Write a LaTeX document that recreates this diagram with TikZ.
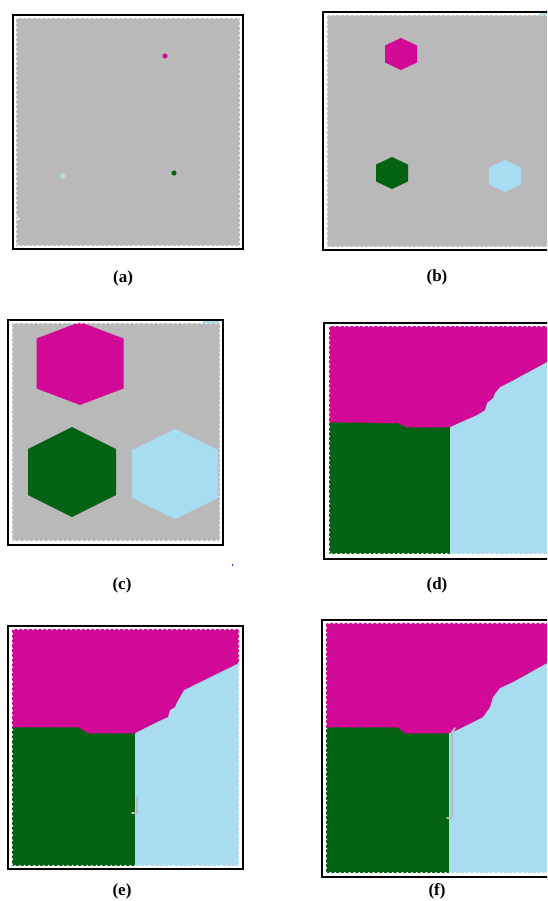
\documentclass[tikz,border=0pt]{standalone}
\usepackage{fontspec}
\setmainfont{Liberation Serif}
\definecolor{bggray}{RGB}{185,185,185}
\definecolor{mag}{RGB}{210,8,150}
\definecolor{dgreen}{RGB}{4,99,18}
\definecolor{lcyan}{RGB}{168,220,240}
\newcommand{\hexat}[5]{(#1,#2-#4) -- (#1+#3,#2-#5) -- (#1+#3,#2+#5) -- (#1,#2+#4) -- (#1-#3,#2+#5) -- (#1-#3,#2-#5) -- cycle}
\tikzset{
  frame/.style={draw=black, line width=1.6pt, fill=white},
  scallop/.style={draw=white, line width=2.4pt, dash pattern=on 0pt off 4.8pt, line cap=round},
  magbump/.style={draw=mag, line width=2.2pt, dash pattern=on 0pt off 4.8pt, line cap=round},
  lbl/.style={font=\bfseries\fontsize{17}{19}\selectfont, inner sep=0pt},
  grayline/.style={draw=black!27, line width=1.8pt, line cap=round, line join=round}
}
\begin{document}
\begin{tikzpicture}[x=1pt,y=-1pt]
\useasboundingbox (0,0) rectangle (547,901);
\clip (0,0) rectangle (547,901);

% ---------- (a)
\path[frame] (13,15) rectangle (243,249);
\fill[bggray] (16,18) rectangle (240,246);
\path[scallop] (16,18) rectangle (240,246);
\fill[mag] (165,56) circle (2.6);
\fill[lcyan] (63,176) circle (2.6);
\fill[dgreen] (174,173) circle (2.6);
\draw[white, line width=0.6pt] (15.5,215.5) -- (19.5,219) -- (15.5,220.5) -- cycle;
\node[lbl] (la) at (123,278) {(a)};

% ---------- (b)
\path[frame] (323,12) rectangle (560,250);
\fill[bggray] (327,15) rectangle (560,247);
\path[scallop] (327,15) rectangle (560,247);
\fill[mag] \hexat{401}{54}{16}{16}{8.5};
\fill[dgreen] \hexat{392}{173}{16}{16}{8.5};
\fill[lcyan] \hexat{505}{176}{16}{16}{8.5};
\draw[lcyan, line width=1.5pt] (540,14) -- (547,14);
\node[lbl] (lb) at (437,277) {(b)};

% ---------- (c)
\path[frame] (8,320) rectangle (223,545);
\fill[bggray] (12,323) rectangle (220,541);
\begin{scope}
\clip (12,323) rectangle (220,541);
\fill[mag] \hexat{80}{363.5}{43.5}{41.5}{25};
\fill[dgreen] \hexat{72}{472}{44}{45}{23};
\fill[lcyan] \hexat{175}{474}{43}{45}{24};
\end{scope}
\path[scallop] (12,323) rectangle (220,541);
\draw[lcyan, line width=1.2pt] (203,322) -- (219,322);
\fill[blue] (232.5,565) circle (0.8);
\node[lbl] (lc) at (122,585) {(c)};

% ---------- (d)
\path[frame] (324,323) rectangle (560,559);
\fill[lcyan] (329,326) rectangle (560,554);
\fill[dgreen] (329,422) rectangle (450,554);
\fill[mag] (329,326) -- (560,326) -- (560,355) -- (547,362) -- (510,382) -- (500,387)
  -- (495,393) -- (493,398) -- (487,403) -- (485,410) -- (477,415) -- (450,427)
  -- (407,427) -- (397,423) -- (329,422) -- cycle;
\path[magbump] (331,422) -- (397,423);
\path[magbump] (407,427) -- (448,427);
\path[scallop] (329,326) rectangle (560,554);
\node[lbl] (ld) at (437,585) {(d)};

% ---------- (e)
\path[frame] (8,626) rectangle (243,869);
\fill[lcyan] (12,629) rectangle (239,866);
\fill[dgreen] (12,727) rectangle (135,866);
\fill[mag] (12,629) -- (239,629) -- (239,663) -- (184,690) -- (180,697) -- (177,702)
  -- (175,707) -- (170,710) -- (168,717) -- (157,722) -- (135,733) -- (88,733)
  -- (78,727) -- (12,727) -- cycle;
\path[magbump] (14,727) -- (78,727);
\path[magbump] (88,733) -- (133,733);
\path[scallop] (12,629) rectangle (239,866);
\draw[grayline] (137,797) -- (137,813) -- (132,813);
\node[lbl] (le) at (122,891) {(e)};

% ---------- (f)
\path[frame] (322,620) rectangle (560,877);
\fill[lcyan] (326,623) rectangle (560,873);
\fill[dgreen] (326,727) rectangle (449,873);
\fill[mag] (326,623) -- (560,623) -- (560,656) -- (547,663) -- (513,682) -- (500,688)
  -- (493,697) -- (490,707) -- (483,717) -- (457,730) -- (449,733) -- (405,733)
  -- (397,727) -- (326,727) -- cycle;
\path[magbump] (328,727) -- (397,727);
\path[magbump] (405,733) -- (447,733);
\path[scallop] (326,623) rectangle (560,873);
\draw[grayline] (455,728) -- (452,732) -- (452,818) -- (447,818);
\node[lbl] (lf) at (437,891) {(f)};
\end{tikzpicture}
\end{document}
